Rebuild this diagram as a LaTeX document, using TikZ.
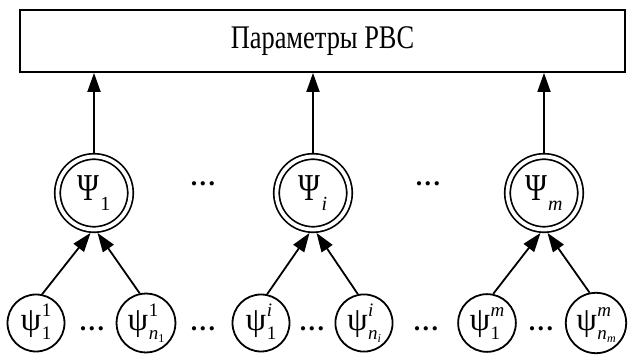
\documentclass[tikz,border=0pt]{standalone}
\usepackage{fontspec}
\setmainfont{Liberation Serif}
\usetikzlibrary{arrows.meta}

% large node label: condensed capital psi with a lowered index
\newcommand{\bigpsi}[1]{\scalebox{0.78}[1]{\fontsize{38}{38}\selectfont Ψ}\kern1pt\raisebox{-10pt}{\fontsize{20}{20}\selectfont #1}}
% small node label: psi with superscript and subscript stacked in one column
\newcommand{\smallpsi}[2]{{\fontsize{33}{33}\selectfont ψ}\kern0.5pt\raisebox{-9pt}{\fontsize{19}{23}\selectfont\begin{tabular}[b]{@{}l@{}}#1\\#2\end{tabular}}}
\newcommand{\lowidx}[2]{\textit{#1}\raisebox{-3pt}{\fontsize{12}{12}\selectfont #2}}
% spaced ellipsis
\newcommand{\gapdots}{.\kern2.5pt.\kern2.5pt.}

\tikzset{
  parambox/.style={draw, line width=1.8pt, minimum width=605pt, minimum height=62pt, inner sep=0pt,
    font=\fontsize{33}{33}\selectfont},
  bignode/.style={circle, draw, line width=1.7pt, double, double distance=3.8pt,
    minimum size=73pt, inner sep=0pt, outer sep=3.6pt},
  smallnode/.style={circle, draw, line width=1.8pt, minimum size=57pt, inner sep=0pt},
  gap/.style={font=\fontsize{26}{26}\selectfont\bfseries, inner sep=0pt, anchor=base},
  arr/.style={line width=1.8pt, -{Triangle[length=19pt,width=13pt]}},
}

\begin{document}
\begin{tikzpicture}[x=1pt, y=-1pt]
  \useasboundingbox (0,0) rectangle (630,358);

  % parameter block
  \node[parambox] (top) at (322.5,41) {\scalebox{0.8}[1]{Параметры РВС}};

  % aggregated nodes
  \node[bignode] (b1) at (94,193) {\bigpsi{1}};
  \node[bignode] (bi) at (313,193) {\bigpsi{\textit{i}}};
  \node[bignode] (bm) at (544,193) {\bigpsi{\textit{m}}};
  \node[gap] (g1) at (203,186) {\gapdots};
  \node[gap] (g2) at (428,186) {\gapdots};

  % component nodes
  \node[smallnode] (s11) at (36,323) {\smallpsi{1}{1}};
  \node[smallnode] (s1n) at (146,323) {\smallpsi{1}{\lowidx{n}{1}}};
  \node[smallnode] (si1) at (261,323) {\smallpsi{\textit{i}}{1}};
  \node[smallnode] (sin) at (364,323) {\smallpsi{\textit{i}}{\lowidx{n}{\textit{i}}}};
  \node[smallnode] (sm1) at (487,323) {\smallpsi{\textit{m}}{1}};
  \node[smallnode] (smn) at (596,323) {\smallpsi{\textit{m}}{\lowidx{n}{\textit{m}}}};
  \node[gap] (d1) at (92,331) {\gapdots};
  \node[gap] (d2) at (203,331) {\gapdots};
  \node[gap] (d3) at (312,331) {\gapdots};
  \node[gap] (d4) at (426,331) {\gapdots};
  \node[gap] (d5) at (541,331) {\gapdots};

  % connections to the parameter block
  \draw[arr] (b1.north) -- (b1.north |- top.south);
  \draw[arr] (bi.north) -- (bi.north |- top.south);
  \draw[arr] (bm.north) -- (bm.north |- top.south);

  % connections from components to aggregated nodes
  \draw[arr] (s11.78) -- (b1.265);
  \draw[arr] (s1n.102) -- (b1.275);
  \draw[arr] (si1.78) -- (bi.265);
  \draw[arr] (sin.102) -- (bi.275);
  \draw[arr] (sm1.78) -- (bm.265);
  \draw[arr] (smn.102) -- (bm.275);
\end{tikzpicture}
\end{document}
